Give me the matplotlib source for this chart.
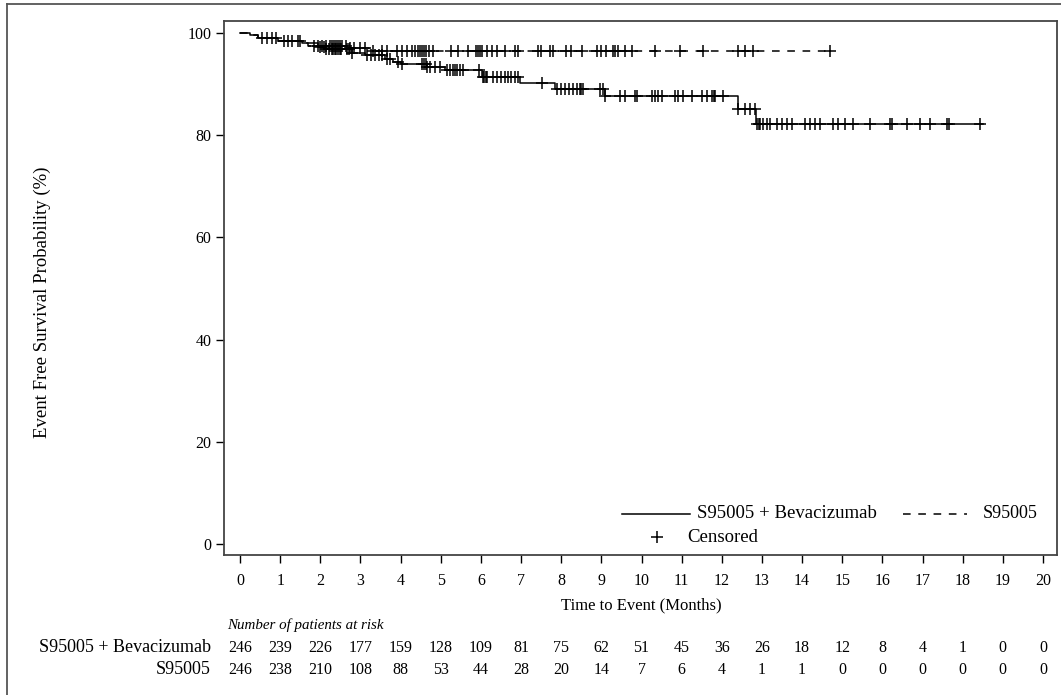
import numpy as np
import matplotlib
matplotlib.use('Agg')
import matplotlib.pyplot as plt
from matplotlib.lines import Line2D
from matplotlib.transforms import blended_transform_factory

plt.rcParams['font.family'] = ['Liberation Serif', 'DejaVu Serif']

# Kaplan-Meier steps (months, % event free)
bev_times = [0, 0.25, 0.45, 0.95, 1.55, 1.95, 2.1, 2.8, 3.1, 3.6, 3.8, 4.0,
             4.65, 5.1, 6.03, 6.97, 7.85, 9.1, 12.4, 12.85]
bev_surv = [100, 99.6, 99.0, 98.5, 98.0, 97.3, 96.8, 96.1, 95.7, 95.0, 94.4, 93.9,
            93.3, 92.7, 91.4, 90.2, 89.1, 87.7, 85.1, 82.2]
bev_end = 18.5

chemo_times = [0, 0.25, 0.45, 0.95, 1.55, 1.7, 2.7, 3.2]
chemo_surv = [100, 99.6, 99.0, 98.5, 98.0, 97.5, 97.0, 96.5]
chemo_end = 14.75

# censoring times
bev_cens = [0.55, 0.8, 1.3, 1.45, 2.0, 2.08, 2.15, 2.22, 2.28, 2.32,
            2.36, 2.4, 2.44, 2.48, 2.52, 2.66, 2.72, 2.8, 3.16, 3.25, 3.35, 3.45,
            3.54, 3.66, 3.74, 3.93, 4.03, 4.53, 4.58, 4.62, 4.66, 4.73, 4.85, 4.98,
            5.15, 5.23, 5.3, 5.35, 5.4, 5.48, 5.55, 5.95, 6.05, 6.08, 6.12, 6.16,
            6.3, 6.4, 6.5, 6.6, 6.68, 6.76, 6.84, 6.92, 7.52, 7.9, 8.0, 8.1, 8.2,
            8.3, 8.4, 8.47, 8.5, 8.55, 8.97, 9.03, 9.1, 9.46, 9.59, 9.84, 9.89,
            10.26, 10.34, 10.41, 10.51, 10.83, 10.91, 11.03, 11.26, 11.51, 11.63,
            11.76, 11.8, 11.84, 12.03, 12.4, 12.58, 12.7, 12.83, 12.88, 12.92,
            12.96, 13.03, 13.13, 13.2, 13.37, 13.5, 13.62, 13.75, 14.07, 14.2,
            14.32, 14.45, 14.77, 14.89, 15.07, 15.27, 15.69, 16.19, 16.24, 16.61,
            16.94, 17.19, 17.61, 17.65, 18.43]
chemo_cens = [0.67, 0.9, 1.1, 1.2, 1.5, 1.85, 1.95,
              2.05, 2.15, 2.25, 2.3, 2.35, 2.4, 2.45, 2.5, 2.55, 2.65, 2.75, 2.85,
              3.0, 3.1, 3.31, 3.54, 3.66, 3.91, 4.03, 4.16, 4.28, 4.36, 4.44, 4.48,
              4.53, 4.58, 4.63, 4.71, 4.8, 5.26, 5.43, 5.68, 5.88, 5.93, 5.98,
              6.03, 6.15, 6.28, 6.40, 6.60, 6.85, 6.92, 7.42, 7.50, 7.72, 7.80,
              8.12, 8.24, 8.52, 8.89, 8.99, 9.12, 9.29, 9.34, 9.41, 9.59, 9.76,
              10.34, 10.96, 11.53, 12.40, 12.58, 12.78, 14.69]

# number at risk
risk_months = list(range(21))
bev_risk = [246, 239, 226, 177, 159, 128, 109, 81, 75, 62, 51, 45, 36, 26, 18,
            12, 8, 4, 1, 0, 0]
chemo_risk = [246, 238, 210, 108, 88, 53, 44, 28, 20, 14, 7, 6, 4, 1, 1, 0, 0,
              0, 0, 0, 0]
bev_label = "S95005 + Bevacizumab"
chemo_label = "S95005"

W, H = 1061, 695


def fx(x):
    return x / W


def fy(y):
    return 1 - y / H


def surv_at(times, surv, t):
    idx = np.searchsorted(times, t, side='right') - 1
    return np.asarray(surv)[idx]


fig = plt.figure(figsize=(W / 100, H / 100), dpi=100)
ax = fig.add_axes([fx(224), fy(555), fx(1057 - 224), (555 - 21) / H])

ax.step(bev_times + [bev_end], bev_surv + [bev_surv[-1]], where='post',
        color='black', lw=1.1)
ax.step(chemo_times + [chemo_end], chemo_surv + [chemo_surv[-1]], where='post',
        color='black', lw=1.1, linestyle=(0, (5, 5)))
ax.plot(bev_cens, surv_at(bev_times, bev_surv, bev_cens), linestyle='none',
        marker='+', ms=9, mew=1.1, color='black')
ax.plot(chemo_cens, surv_at(chemo_times, chemo_surv, chemo_cens), linestyle='none',
        marker='+', ms=9, mew=1.1, color='black')

ax.set_xlim(-0.4, 20.35)
ax.set_ylim(-2.15, 102.35)
ax.set_xticks(risk_months)
ax.set_yticks([0, 20, 40, 60, 80, 100])
ax.tick_params(axis='both', direction='out', length=6, width=1.0, colors='black',
               labelsize=11.5)
ax.tick_params(axis='x', pad=7)
ax.tick_params(axis='y', pad=3)
for sp in ax.spines.values():
    sp.set_color('#444444')
    sp.set_linewidth(1.3)

fig.text(fx(641), fy(605), "Time to Event (Months)", ha='center', va='center',
         fontsize=12)
fig.text(fx(42), fy(302), "Event Free Survival Probability (%)", ha='center',
         va='center', rotation=90, fontsize=13.5)

# legend drawn by hand to match the two-row layout
fig.add_artist(Line2D([fx(622), fx(690)], [fy(514), fy(514)], color='black', lw=1.1))
fig.text(fx(697), fy(514), bev_label, ha='left', va='center', fontsize=13.5)
fig.add_artist(Line2D([fx(903), fx(967)], [fy(514), fy(514)], color='black', lw=1.1,
                      linestyle=(0, (5, 5))))
fig.text(fx(983), fy(514), chemo_label, ha='left', va='center', fontsize=13)
fig.add_artist(Line2D([fx(657)], [fy(537)], marker='+', ms=9, mew=1.1,
                      color='black', linestyle='none'))
fig.text(fx(687), fy(537), "Censored", ha='left', va='center', fontsize=13.5)

# at-risk table
fig.text(fx(227), fy(625), "Number of patients at risk", ha='left', va='center',
         fontsize=10.8, style='italic')
tr = blended_transform_factory(ax.transData, fig.transFigure)
for label, counts, y in [(bev_label, bev_risk, 648), (chemo_label, chemo_risk, 670)]:
    fig.text(fx(211), fy(y), label, ha='right', va='center', fontsize=13)
    for m, n in zip(risk_months, counts):
        ax.text(m, fy(y), str(n), transform=tr, ha='center', va='center',
                fontsize=11.5)

# outer frame around the whole output
fig.add_artist(Line2D([fx(7), 1.0], [fy(4), fy(4)], color='#555555', lw=1.3))
fig.add_artist(Line2D([fx(7), fx(7)], [fy(4), 0.0], color='#555555', lw=1.3))

fig.savefig("out.png", dpi=100)
